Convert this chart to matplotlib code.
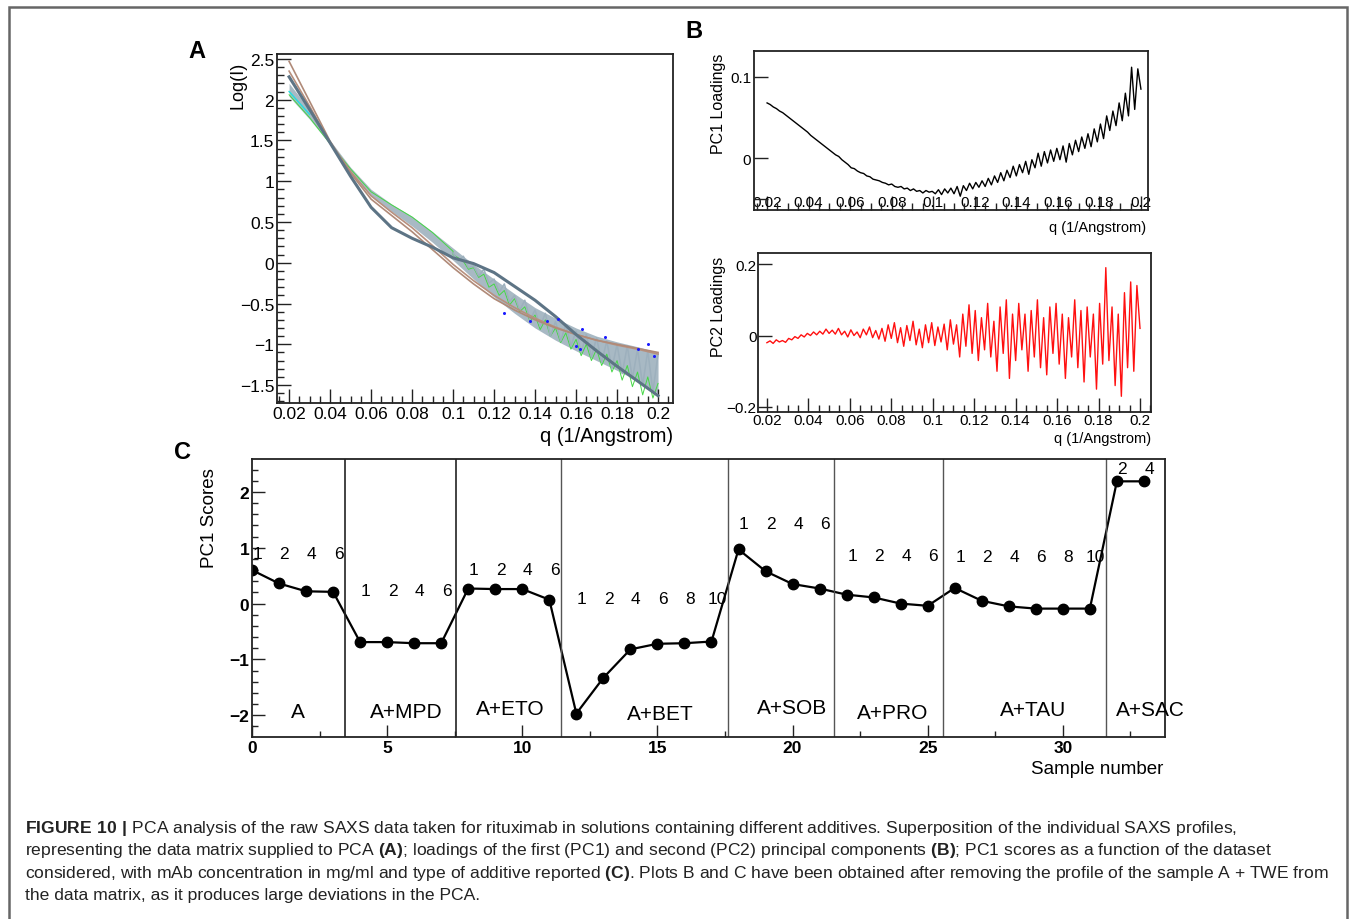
import numpy as np
import matplotlib
matplotlib.use('Agg')
import matplotlib.pyplot as plt
from matplotlib.ticker import MultipleLocator, FuncFormatter
from matplotlib.patches import Rectangle

plt.rcParams['font.family'] = ['Liberation Sans', 'DejaVu Sans']
plt.rcParams['mathtext.fontset'] = 'custom'
plt.rcParams['mathtext.rm'] = 'Liberation Sans'
plt.rcParams['mathtext.bf'] = 'Liberation Sans:bold'

# ---- panel A: SAXS profiles, log(I) vs q ----
qa = [0.02, 0.03, 0.04, 0.05, 0.06, 0.07, 0.08, 0.09, 0.10, 0.11,
      0.12, 0.13, 0.14, 0.15, 0.16, 0.17, 0.18, 0.19, 0.20]
band_hi = [2.20, 1.88, 1.50, 1.17, 0.90, 0.72, 0.57, 0.38, 0.18, -0.02,
           -0.20, -0.38, -0.55, -0.68, -0.80, -0.90, -0.97, -1.03, -1.10]
band_lo = [2.04, 1.76, 1.45, 1.10, 0.82, 0.63, 0.45, 0.25, 0.03, -0.20,
           -0.42, -0.62, -0.80, -0.95, -1.08, -1.20, -1.32, -1.45, -1.60]
brown1 = [2.47, 1.98, 1.49, 1.10, 0.78, 0.58, 0.38, 0.16, -0.06, -0.26,
          -0.44, -0.58, -0.70, -0.80, -0.88, -0.95, -1.00, -1.05, -1.10]
brown2 = [2.35, 1.92, 1.47, 1.12, 0.82, 0.62, 0.43, 0.21, -0.02, -0.22,
          -0.40, -0.55, -0.68, -0.79, -0.88, -0.95, -1.01, -1.06, -1.12]
dark = [2.28, 1.88, 1.47, 1.06, 0.68, 0.43, 0.30, 0.19, 0.06, -0.01,
        -0.12, -0.29, -0.46, -0.66, -0.88, -1.08, -1.27, -1.45, -1.63]
green_low = [2.06, 1.78, 1.46, 1.15, 0.87, 0.71, 0.56, 0.37, 0.14]

# noisy high-q part (q = 0.100 ... 0.200, step 0.0025)
qa_noise = np.linspace(0.1, 0.2, 41)
gray_noise = [0.12, 0.02, 0.08, -0.06, -0.04, -0.16, -0.08, -0.25, -0.20, -0.36,
              -0.26, -0.48, -0.40, -0.58, -0.46, -0.70, -0.58, -0.78, -0.62, -0.90,
              -0.72, -0.96, -0.76, -1.02, -0.84, -1.10, -0.88, -1.16, -0.92, -1.22,
              -0.96, -1.30, -1.00, -1.36, -1.02, -1.42, -1.06, -1.50, -1.08, -1.58,
              -1.12]
green_noise = [0.10, 0.06, 0.02, -0.08, -0.06, -0.18, -0.14, -0.30, -0.26, -0.40,
               -0.34, -0.52, -0.44, -0.60, -0.54, -0.72, -0.64, -0.82, -0.70, -0.90,
               -0.80, -0.98, -0.86, -1.06, -0.94, -1.14, -1.00, -1.20, -1.06, -1.26,
               -1.12, -1.34, -1.20, -1.44, -1.26, -1.52, -1.34, -1.62, -1.40, -1.66,
               -1.48]
blue_q = [0.125, 0.1376, 0.146, 0.151, 0.160, 0.162, 0.163, 0.174, 0.190, 0.195, 0.198]
blue_y = [-0.62, -0.71, -0.71, -0.69, -1.02, -1.06, -0.81, -0.91, -1.06, -1.00, -1.14]
cyan_q = [0.02, 0.025, 0.03]
cyan_y = [2.10, 1.96, 1.82]

# ---- panel B: loadings (q = 0.020 ... 0.200, step 0.0015) ----
qb = np.linspace(0.02, 0.2, 121)
pc1_load = [0.068, 0.066, 0.063, 0.061, 0.058, 0.056, 0.053, 0.050, 0.047, 0.044,
            0.041, 0.038, 0.035, 0.032, 0.028, 0.025, 0.022, 0.019, 0.016, 0.013,
            0.010, 0.007, 0.004, 0.002, -0.002, -0.005, -0.008, -0.012, -0.013, -0.016,
            -0.018, -0.019, -0.022, -0.023, -0.026, -0.027, -0.028, -0.030, -0.031, -0.033,
            -0.032, -0.035, -0.036, -0.035, -0.038, -0.037, -0.040, -0.038, -0.041, -0.040,
            -0.043, -0.040, -0.042, -0.041, -0.044, -0.039, -0.045, -0.038, -0.043, -0.037,
            -0.044, -0.035, -0.047, -0.034, -0.040, -0.031, -0.038, -0.030, -0.036, -0.028,
            -0.035, -0.025, -0.033, -0.022, -0.030, -0.018, -0.028, -0.015, -0.024, -0.010,
            -0.022, -0.008, -0.018, -0.004, -0.020, -0.002, -0.012, 0.006, -0.010, 0.008,
            -0.006, 0.010, -0.004, 0.012, -0.002, 0.015, -0.005, 0.018, 0.004, 0.022,
            0.008, 0.026, 0.012, 0.030, 0.014, 0.036, 0.020, 0.042, 0.024, 0.052,
            0.034, 0.058, 0.040, 0.068, 0.046, 0.080, 0.052, 0.112, 0.060, 0.110,
            0.085]
pc2_load = [-0.020, -0.015, -0.022, -0.012, -0.018, -0.014, -0.019, -0.008, -0.012, -0.003,
            -0.008, 0.002, -0.004, 0.006, 0.000, 0.010, 0.002, 0.012, 0.004, 0.018,
            0.006, 0.015, 0.004, 0.020, 0.002, 0.012, -0.004, 0.016, 0.000, 0.010,
            -0.006, 0.018, 0.002, 0.024, -0.006, 0.014, -0.010, 0.020, -0.016, 0.030,
            -0.008, 0.036, -0.020, 0.022, -0.030, 0.028, -0.014, 0.040, -0.026, 0.018,
            -0.034, 0.030, -0.020, 0.036, -0.028, 0.024, -0.018, 0.032, -0.040, 0.044,
            -0.024, 0.030, -0.060, 0.060, -0.030, 0.086, -0.050, 0.070, -0.070, 0.050,
            -0.040, 0.090, -0.060, 0.040, -0.100, 0.080, -0.050, 0.100, -0.120, 0.060,
            -0.070, 0.090, -0.040, 0.060, -0.100, 0.070, -0.060, 0.100, -0.090, 0.050,
            -0.110, 0.080, -0.050, 0.090, -0.080, 0.060, -0.120, 0.050, -0.060, 0.100,
            -0.090, 0.070, -0.130, 0.080, -0.060, 0.060, -0.150, 0.090, -0.080, 0.190,
            -0.070, 0.080, -0.140, 0.060, -0.170, 0.120, -0.090, 0.150, -0.100, 0.140,
            0.020]

# ---- panel C: PC1 scores per sample ----
scores = [0.60, 0.36, 0.22, 0.21, -0.69, -0.69, -0.71, -0.71, 0.27, 0.26,
          0.26, 0.07, -1.97, -1.33, -0.82, -0.72, -0.71, -0.68, 0.97, 0.58,
          0.35, 0.27, 0.16, 0.11, 0.00, -0.04, 0.28, 0.05, -0.05, -0.09,
          -0.09, -0.09, 2.19, 2.19]
groups = ['A', 'A+MPD', 'A+ETO', 'A+BET', 'A+SOB', 'A+PRO', 'A+TAU', 'A+SAC']
concs = [['1', '2', '4', '6'], ['1', '2', '4', '6'], ['1', '2', '4', '6'],
         ['1', '2', '4', '6', '8', '10'], ['1', '2', '4', '6'], ['1', '2', '4', '6'],
         ['1', '2', '4', '6', '8', '10'], ['2', '4']]

# layout for panel C annotations
conc_level = [0.9, 0.24, 0.61, 0.09, 1.43, 0.86, 0.84, 2.42]
group_x = [1.7, 5.7, 9.55, 15.1, 20.0, 23.7, 28.9, 33.25]
group_y = [-1.94, -1.94, -1.88, -1.97, -1.86, -1.95, -1.9, -1.9]
group_edges = [3.45, 7.55, 11.45, 17.6, 21.55, 25.55, 31.6]

W, H = 1355, 920
fig = plt.figure(figsize=(W / 100, H / 100), dpi=100)


def add_ax(l, t, r, b):
    return fig.add_axes([l / W, 1 - b / H, (r - l) / W, (b - t) / H])


def px_text(x, y, s, **kw):
    return fig.text(x / W, 1 - y / H, s, **kw)


def num_fmt(v, pos):
    return ('%g' % round(v, 6)).replace('-', '\u2212')


def root_style(ax, size, pad=2):
    for sp in ax.spines.values():
        sp.set_linewidth(1.3)
        sp.set_color('#222222')
    ax.tick_params(which='both', direction='in', top=False, right=False,
                   color='#222222', width=1.0)
    ax.tick_params(which='major', length=10, labelsize=size, pad=pad)
    ax.tick_params(which='minor', length=5)


# outer frame
fig.patches.append(Rectangle((9 / W, -0.02), 1338 / W, 1 - 8 / H + 0.02,
                             transform=fig.transFigure, fill=False,
                             edgecolor='#666666', lw=1.8))

# panel A
axA = add_ax(277, 55, 673, 404)
axA.fill_between(qa, band_lo, band_hi, color='#a8b9c4', lw=0)
axA.plot(qa[:9] + list(qa_noise), green_low + green_noise, color='#45d845', lw=0.7)
axA.plot(qa_noise, gray_noise, color='#9db0bd', lw=1.1)
axA.plot(cyan_q, cyan_y, color='#22e0e0', lw=1.0)
axA.plot(qa, brown2, color='#b8907e', lw=1.2)
axA.plot(qa, brown1, color='#b08a78', lw=1.2)
axA.plot(qa, dark, color='#5d7485', lw=2.2)
axA.plot(blue_q, blue_y, 'o', color='#1a1aff', ms=2.2, mew=0)
axA.set_xlim(0.0141, 0.2073)
axA.set_ylim(-1.72, 2.56)
axA.xaxis.set_major_locator(MultipleLocator(0.02))
axA.xaxis.set_minor_locator(MultipleLocator(0.005))
axA.yaxis.set_major_locator(MultipleLocator(0.5))
axA.yaxis.set_minor_locator(MultipleLocator(0.1))
axA.xaxis.set_major_formatter(FuncFormatter(num_fmt))
axA.yaxis.set_major_formatter(FuncFormatter(num_fmt))
root_style(axA, 12.5)
px_text(197, 51, 'A', fontsize=17, fontweight='bold', ha='center', va='center')
px_text(238, 85, 'Log(I)', fontsize=13, rotation=90, ha='center', va='center')
px_text(673, 437, 'q (1/Angstrom)', fontsize=14.5, ha='right', va='center')

# panel B, PC1 loadings (ROOT puts the q labels just above the frame here)
axB1 = add_ax(754, 52, 1148, 211)
axB1.plot(qb, pc1_load, color='black', lw=1.0)
axB1.set_xlim(0.0137, 0.2034)
axB1.set_ylim(-0.064, 0.132)
axB1.xaxis.set_major_locator(MultipleLocator(0.02))
axB1.xaxis.set_minor_locator(MultipleLocator(0.005))
axB1.xaxis.set_major_formatter(FuncFormatter(num_fmt))
axB1.set_yticks([-0.05, 0, 0.1], ['', '0', '0.1'])
root_style(axB1, 11)
axB1.tick_params(axis='x', which='major', pad=-11)
px_text(694, 31, 'B', fontsize=17, fontweight='bold', ha='center', va='center')
px_text(718, 104, 'PC1 Loadings', fontsize=11.5, rotation=90, ha='center', va='center')
px_text(1146, 228, 'q (1/Angstrom)', fontsize=10.5, ha='right', va='center')

# panel B, PC2 loadings
axB2 = add_ax(758, 254, 1151, 413)
axB2.plot(qb, pc2_load, color='#ff1010', lw=1.0)
axB2.set_xlim(0.0157, 0.2053)
axB2.set_ylim(-0.214, 0.231)
axB2.xaxis.set_major_locator(MultipleLocator(0.02))
axB2.xaxis.set_minor_locator(MultipleLocator(0.005))
axB2.xaxis.set_major_formatter(FuncFormatter(num_fmt))
axB2.set_yticks([-0.2, 0, 0.2], ['\u22120.2', '0', '0.2'])
root_style(axB2, 11, pad=1)
px_text(718, 307, 'PC2 Loadings', fontsize=11.5, rotation=90, ha='center', va='center')
px_text(1151, 439, 'q (1/Angstrom)', fontsize=10.5, ha='right', va='center')

# panel C, PC1 scores
axC = add_ax(252, 460, 1165, 738)
samples = np.arange(len(scores))
axC.plot(samples, scores, '-o', color='black', lw=1.6, ms=7.5)
for i, e in enumerate(group_edges):
    axC.axvline(e, color='#222222' if i < 2 else '#555555', lw=1.2 if i < 2 else 1.0)
start = 0
for g, cl, lvl, gx, gy in zip(groups, concs, conc_level, group_x, group_y):
    for j, c in enumerate(cl):
        axC.text(start + j + 0.2, lvl, c, fontsize=12.5, ha='center', va='center')
    axC.text(gx, gy, g, fontsize=15, ha='center', va='center')
    start += len(cl)
axC.set_xlim(0, 33.78)
axC.set_ylim(-2.39, 2.59)
axC.xaxis.set_major_locator(MultipleLocator(5))
axC.xaxis.set_minor_locator(MultipleLocator(2.5))
axC.yaxis.set_major_locator(MultipleLocator(1))
axC.yaxis.set_minor_locator(MultipleLocator(0.2))
axC.xaxis.set_major_formatter(FuncFormatter(num_fmt))
axC.yaxis.set_major_formatter(FuncFormatter(num_fmt))
root_style(axC, 12.5)
axC.tick_params(which='major', length=9)
axC.tick_params(which='minor', length=4)
plt.setp(axC.get_xticklabels() + axC.get_yticklabels(), fontweight='bold')
px_text(182, 453, 'C', fontsize=17, fontweight='bold', ha='center', va='center')
px_text(209, 518, 'PC1 Scores', fontsize=13.5, rotation=90, ha='center', va='center')
px_text(1163, 770, 'Sample number', fontsize=13.5, ha='right', va='center')

# caption
caption = [
    r'$\mathbf{FIGURE\ 10\ |}$ PCA analysis of the raw SAXS data taken for rituximab in solutions '
    r'containing different additives. Superposition of the individual SAXS profiles,',
    r'representing the data matrix supplied to PCA $\mathbf{(A)}$; loadings of the first (PC1) and '
    r'second (PC2) principal components $\mathbf{(B)}$; PC1 scores as a function of the dataset',
    r'considered, with mAb concentration in mg/ml and type of additive reported $\mathbf{(C)}$. '
    r'Plots B and C have been obtained after removing the profile of the sample A + TWE from',
    'the data matrix, as it produces large deviations in the PCA.',
]
cap_targets = [1283, 1300, 1300]
cap_texts = []
for i, line in enumerate(caption):
    cap_texts.append(px_text(25, 833 + 22.5 * i, line, fontsize=12, ha='left',
                             va='baseline', color='#222222'))
fig.canvas.draw()
rend = fig.canvas.get_renderer()
scale = min(tw / cap_texts[i].get_window_extent(rend).width
            for i, tw in enumerate(cap_targets))
for t in cap_texts:
    t.set_fontsize(12 * scale)

fig.savefig('out.png', dpi=100)
